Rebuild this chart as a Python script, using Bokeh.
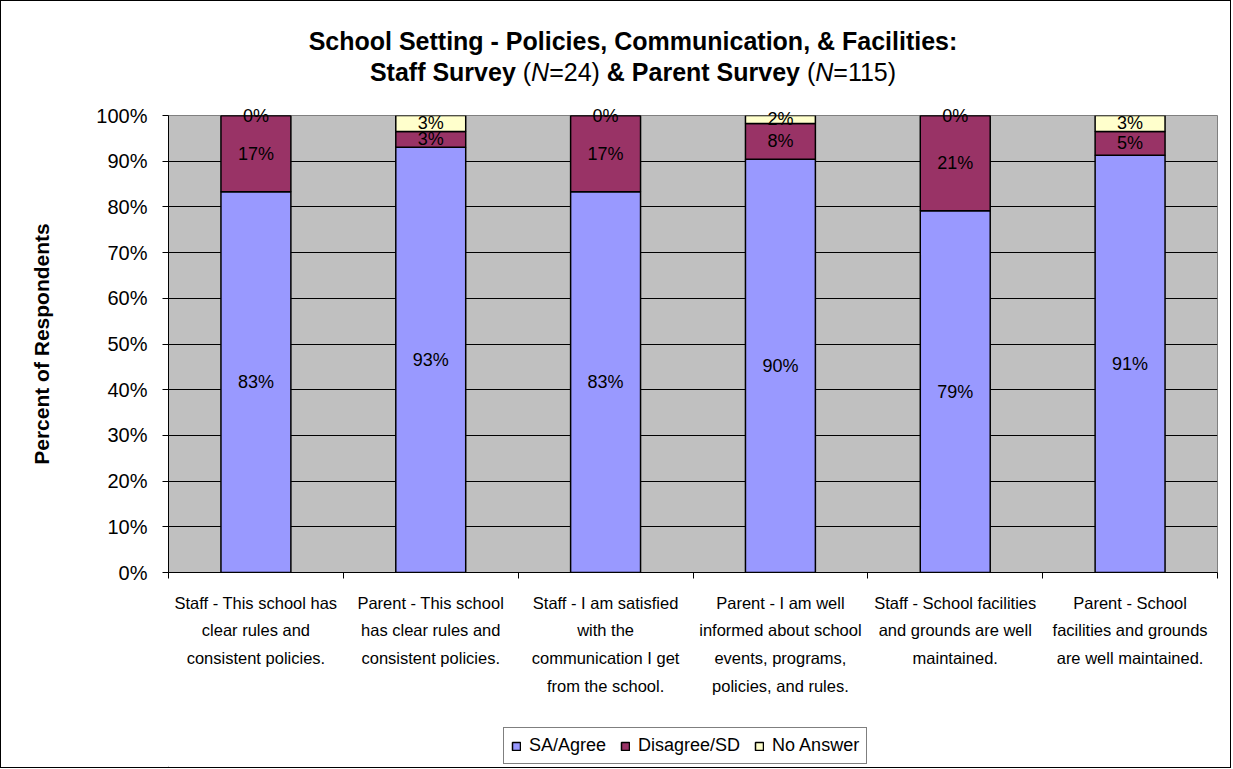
from bokeh.plotting import figure
from bokeh.layouts import column
from bokeh.models import (ColumnDataSource, FixedTicker, PrintfTickFormatter, Legend,
                          LegendItem, Range1d, Div)
from bokeh.core.properties import value
from bokeh.embed import file_html
from bokeh.resources import INLINE

# ---------------- data ----------------
categories = [
    "Staff - This school has\nclear rules and\nconsistent policies.",
    "Parent - This school\nhas clear rules and\nconsistent policies.",
    "Staff - I am satisfied\nwith the\ncommunication I get\nfrom the school.",
    "Parent - I am well\ninformed about school\nevents, programs,\npolicies, and rules.",
    "Staff - School facilities\nand grounds are well\nmaintained.",
    "Parent - School\nfacilities and grounds\nare well maintained.",
]
agree = [83.33, 93.04, 83.33, 90.43, 79.17, 91.30]
disagree = [16.67, 3.48, 16.67, 7.83, 20.83, 5.22]
no_answer = [0.0, 3.48, 0.0, 1.74, 0.0, 3.48]
series_names = ["SA/Agree", "Disagree/SD", "No Answer"]
series_colors = ["#9999FF", "#993366", "#FFFFCC"]
y_ticks = [0, 10, 20, 30, 40, 50, 60, 70, 80, 90, 100]

FONT = "Liberation Sans"
W = 1229
n = len(categories)
xs = [i + 0.5 for i in range(n)]

# ---------------- title ----------------
title_html = (
    f'<div style="box-sizing:border-box; width:{W}px; padding-left:35px; padding-top:25px; '
    f'text-align:center; font-family:\'{FONT}\'; font-size:25px; line-height:31px; color:black;">'
    '<b>School Setting - Policies, Communication, &amp; Facilities:</b><br>'
    '<b>Staff Survey</b> (<i>N</i>=24) <b>&amp; Parent Survey</b> (<i>N</i>=115)'
    '</div>'
)
title_div = Div(text=title_html, width=W, height=95, margin=0)

# ---------------- main figure ----------------
src = ColumnDataSource(dict(x=xs, agree=agree, disagree=disagree, no_answer=no_answer))

p = figure(frame_width=1049, frame_height=457, x_range=Range1d(0, n), y_range=Range1d(0, 100),
           output_backend="svg", toolbar_location=None,
           min_border_left=167, min_border_right=13, min_border_top=19, min_border_bottom=150)
p.margin = 0
p.background_fill_color = "#C0C0C0"
p.border_fill_color = "white"
p.outline_line_color = "#808080"
p.outline_line_width = 1

renderers = p.vbar_stack(["agree", "disagree", "no_answer"], x="x", width=0.4, source=src,
                         color=series_colors, line_color="black", line_width=1.5)

# data labels
lab_x, lab_y, lab_t = [], [], []
for i in range(n):
    bottom = 0.0
    for vals in (agree, disagree, no_answer):
        v = vals[i]
        lab_x.append(xs[i])
        lab_y.append(bottom + v / 2.0)
        lab_t.append(f"{round(v)}%")
        bottom += v
lsrc = ColumnDataSource(dict(x=lab_x, y=lab_y, t=lab_t))
p.text(x="x", y="y", text="t", source=lsrc, text_align="center", text_baseline="middle",
       text_font=value(FONT), text_font_size="18px", text_color="black", level="overlay")

# category labels under the axis (multi-line)
csrc = ColumnDataSource(dict(x=xs, y=[0] * n, t=categories))
p.text(x="x", y="y", text="t", source=csrc, text_align="center", text_baseline="top",
       y_offset=21, text_font=value(FONT), text_font_size="16.5px", text_color="black",
       text_line_height=1.55, level="overlay")

# grid
p.xgrid.visible = False
p.ygrid.ticker = FixedTicker(ticks=y_ticks[1:-1])
p.ygrid.grid_line_color = "black"
p.ygrid.grid_line_width = 1

# y axis
ya = p.yaxis[0]
ya.ticker = FixedTicker(ticks=y_ticks)
ya.formatter = PrintfTickFormatter(format="%d%%")
ya.major_label_text_font = FONT
ya.major_label_text_font_size = "20px"
ya.major_label_text_color = "black"
ya.major_tick_out = 6
ya.major_tick_in = 0
ya.minor_tick_line_color = None
ya.major_tick_line_color = "black"
ya.axis_line_color = "black"
ya.major_label_standoff = 15
ya.axis_label = "Percent of Respondents"
ya.axis_label_text_font = FONT
ya.axis_label_text_font_size = "21px"
ya.axis_label_text_font_style = "bold"
ya.axis_label_text_color = "black"
ya.axis_label_standoff = 40

# x axis (ticks at category boundaries, labels drawn above)
xa = p.xaxis[0]
xa.ticker = FixedTicker(ticks=xs, minor_ticks=list(range(n + 1)))
xa.major_label_overrides = {x: "" for x in xs}
xa.major_tick_line_color = None
xa.minor_tick_line_color = "black"
xa.minor_tick_out = 6
xa.minor_tick_in = 0
xa.axis_line_color = "black"

# ---------------- legend strip ----------------
q = figure(frame_width=W, frame_height=45, x_range=Range1d(0, 1), y_range=Range1d(0, 1),
           output_backend="svg", toolbar_location=None, x_axis_type=None, y_axis_type=None,
           min_border=0)
q.margin = 0
q.outline_line_color = None
q.background_fill_color = "white"
q.border_fill_color = "white"
# off-screen proxies so that the legend can draw its swatches
legend_renderers = [q.vbar(x=[-5], top=[0], width=0.1, fill_color=c, line_color="black",
                           line_width=1.5) for c in series_colors]
items = [LegendItem(label=series_names[k], renderers=[legend_renderers[k]]) for k in range(3)]
legend = Legend(items=items, orientation="horizontal", location=(502, 3))
legend.border_line_color = "black"
legend.border_line_width = 1
legend.background_fill_color = "white"
legend.background_fill_alpha = 1
legend.label_text_font = FONT
legend.label_text_font_size = "18px"
legend.label_text_color = "black"
legend.glyph_width = 10
legend.glyph_height = 10
legend.label_height = 16
legend.label_standoff = 8
legend.spacing = 14
legend.padding = 7
legend.margin = 0
q.add_layout(legend)

layout = column(title_div, p, q, spacing=0, styles={"border": "1px solid black"})

open("out.html", "w").write(file_html(layout, INLINE))
